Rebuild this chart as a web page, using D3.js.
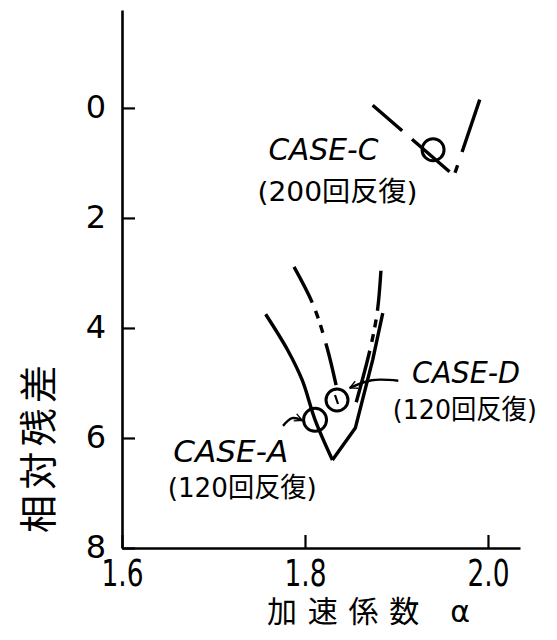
<!DOCTYPE html>
<html>
<head>
<meta charset="utf-8">
<script src="https://cdnjs.cloudflare.com/ajax/libs/d3/7.8.5/d3.min.js"></script>
<style>
body { margin: 0; background: #fff; }
svg { display: block; }
</style>
</head>
<body>
<svg id="chart"></svg>
<script>
// values: alpha (x) and relative residual (y)
var xTicks = [1.6, 1.8, 2.0];
var xTickLabels = ["1.6", "1.8", "2.0"];
var yTicks = [0, 2, 4, 6, 8];
var yTickLabels = ["0", "2", "4", "6", "8"];

// CASE-A, solid, left branch down to the bottom then right branch up
var caseA_left_alpha = [1.757, 1.781, 1.797, 1.811, 1.830];
var caseA_left_resid = [3.75, 4.40, 4.95, 5.67, 6.40];
var caseA_right_alpha = [1.830, 1.855, 1.874, 1.885];
var caseA_right_resid = [6.40, 5.82, 4.58, 3.73];

var caseD_left_alpha = [1.788, 1.809, 1.824, 1.834];
var caseD_left_resid = [2.89, 3.58, 4.35, 5.04];
var caseD_right_alpha = [1.883, 1.879, 1.871, 1.856];
var caseD_right_resid = [2.96, 3.71, 4.40, 5.35];

var caseC_left_alpha = [1.874, 1.958];
var caseC_left_resid = [-0.05, 1.16];
var caseC_right_alpha = [1.964, 1.991];
var caseC_right_resid = [1.18, -0.15];

// circled points (alpha, resid)
var markAlpha = [1.940, 1.811, 1.835];
var markResid = [0.76, 5.67, 5.31];
var markName = ["C", "A", "D"];

var width = 557;
var height = 640;

var svg = d3.select("#chart")
    .attr("width", width)
    .attr("height", height);

var xScale = d3.scaleLinear()
    .domain([1.6, 2.035])
    .range([122, 520]);

var yScale = d3.scaleLinear()
    .domain([-1.78, 8])
    .range([10, 548]);

var zip = function(xs, ys)
{
    return xs.map(function(v, i) { return [v, ys[i]]; });
}

var line = d3.line()
    .x(function(d) { return xScale(d[0]); })
    .y(function(d) { return yScale(d[1]); });

var smooth = d3.line()
    .x(function(d) { return xScale(d[0]); })
    .y(function(d) { return yScale(d[1]); })
    .curve(d3.curveCatmullRom);

var font = "'DejaVu Sans', 'Noto Sans CJK JP', sans-serif";

// axes
var yAxis = d3.axisLeft(yScale)
    .tickValues(yTicks)
    .tickFormat(function(d, i) { return yTickLabels[i]; })
    .tickSizeInner(-13)
    .tickSizeOuter(0)
    .tickPadding(16);

var xAxis = d3.axisBottom(xScale)
    .tickValues(xTicks)
    .tickFormat(function(d, i) { return xTickLabels[i]; })
    .tickSizeInner(-13)
    .tickSizeOuter(0);

var gy = svg.append("g")
    .attr("transform", "translate(" + xScale(1.6) + ",0)")
    .call(yAxis);

var gx = svg.append("g")
    .attr("transform", "translate(0," + yScale(8) + ")")
    .call(xAxis);

gy.select(".domain").attr("stroke-width", 2.6);
gx.select(".domain").attr("stroke-width", 2.6);
gy.selectAll(".tick line").attr("stroke-width", 2.2);
gx.selectAll(".tick line").attr("stroke-width", 2.2);

gy.selectAll(".tick text")
    .attr("font-family", font)
    .attr("font-size", 32)
    .attr("dy", "0.3em")
    .attr("fill", "#000");

gx.selectAll(".tick text")
    .attr("font-family", font)
    .attr("font-size", 38)
    .attr("y", 38)
    .attr("dy", 0)
    .attr("textLength", 42)
    .attr("lengthAdjust", "spacingAndGlyphs")
    .attr("fill", "#000");

// axis titles
svg.append("text")
    .attr("transform", "translate(52," + yScale(6.2) + ") rotate(-90)")
    .attr("text-anchor", "middle")
    .attr("font-family", font)
    .attr("font-size", 38)
    .attr("textLength", 168)
    .attr("lengthAdjust", "spacing")
    .text("相対残差");

svg.append("text")
    .attr("x", 267)
    .attr("y", 622)
    .attr("font-family", font)
    .attr("font-size", 30)
    .attr("textLength", 203)
    .attr("lengthAdjust", "spacing")
    .text("加速係数 α");

// curves
var curves = svg.append("g")
    .attr("fill", "none")
    .attr("stroke", "#000")
    .attr("stroke-width", 3.4)
    .attr("stroke-linejoin", "round");

curves.append("path")
    .attr("d", smooth(zip(caseA_left_alpha, caseA_left_resid)));

curves.append("path")
    .attr("d", line(zip(caseA_right_alpha, caseA_right_resid)));

curves.append("path")
    .attr("d", smooth(zip(caseD_left_alpha, caseD_left_resid)))
    .attr("stroke-dasharray", "40,9,8,7,8,11,200");

curves.append("path")
    .attr("d", smooth(zip(caseD_right_alpha, caseD_right_resid)))
    .attr("stroke-dasharray", "40,9,8,7,8,9,200");

curves.append("path")
    .attr("d", line(zip(caseC_left_alpha, caseC_left_resid)))
    .attr("stroke-dasharray", "39,13,200");

curves.append("path")
    .attr("d", line(zip(caseC_right_alpha, caseC_right_resid)))
    .attr("stroke-dasharray", "8,14,200");

// circled points
var radius = { C: 11, A: 11.5, D: 11 };
svg.selectAll("circle.mark")
    .data(markName)
    .enter()
    .append("circle")
    .attr("class", "mark")
    .attr("cx", function(d, i) { return xScale(markAlpha[i]); })
    .attr("cy", function(d, i) { return yScale(markResid[i]); })
    .attr("r", function(d) { return radius[d]; })
    .attr("fill", "none")
    .attr("stroke", "#000")
    .attr("stroke-width", 3);

// small stroke inside the D circle
var di = markName.indexOf("D");
svg.append("line")
    .attr("x1", xScale(markAlpha[di]) - 2)
    .attr("y1", yScale(markResid[di]) - 5)
    .attr("x2", xScale(markAlpha[di]) + 1)
    .attr("y2", yScale(markResid[di]) + 4)
    .attr("stroke", "#000")
    .attr("stroke-width", 2.2);

// arrows pointing to the circles
svg.append("defs").append("marker")
    .attr("id", "head")
    .attr("viewBox", "0 0 10 10")
    .attr("refX", 9)
    .attr("refY", 5)
    .attr("markerWidth", 4)
    .attr("markerHeight", 4)
    .attr("markerUnits", "strokeWidth")
    .attr("orient", "auto")
    .append("path")
    .attr("d", "M1,1 L9,5 L1,9")
    .attr("fill", "none")
    .attr("stroke", "#000")
    .attr("stroke-width", 1.4);

var arrowD = [[1.902, 4.96], [1.873, 4.95], [1.849, 5.09]];
var arrowA = [[1.776, 5.78], [1.786, 5.64], [1.797, 5.68]];

svg.append("path")
    .attr("d", smooth(arrowD))
    .attr("fill", "none")
    .attr("stroke", "#000")
    .attr("stroke-width", 2.4)
    .attr("marker-end", "url(#head)");

svg.append("path")
    .attr("d", smooth(arrowA))
    .attr("fill", "none")
    .attr("stroke", "#000")
    .attr("stroke-width", 2.4)
    .attr("marker-end", "url(#head)");

// case labels
var addLabel = function(a, r, title, note, w1, w2, a2, r2)
{
    svg.append("text")
        .attr("x", xScale(a))
        .attr("y", yScale(r))
        .attr("font-family", font)
        .attr("font-size", 31)
        .attr("font-style", "italic")
        .attr("textLength", w1)
        .attr("lengthAdjust", "spacingAndGlyphs")
        .text(title);
    svg.append("text")
        .attr("x", xScale(a2))
        .attr("y", yScale(r2))
        .attr("font-family", font)
        .attr("font-size", 27)
        .attr("textLength", w2)
        .attr("lengthAdjust", "spacingAndGlyphs")
        .text(note);
}

addLabel(1.760, 0.945, "CASE-C", "(200回反復)", 110, 160, 1.748, 1.70);
addLabel(1.917, 5.00, "CASE-D", "(120回反復)", 108, 144, 1.896, 5.66);
addLabel(1.656, 6.44, "CASE-A", "(120回反復)", 115, 149, 1.650, 7.07);
</script>
</body>
</html>
